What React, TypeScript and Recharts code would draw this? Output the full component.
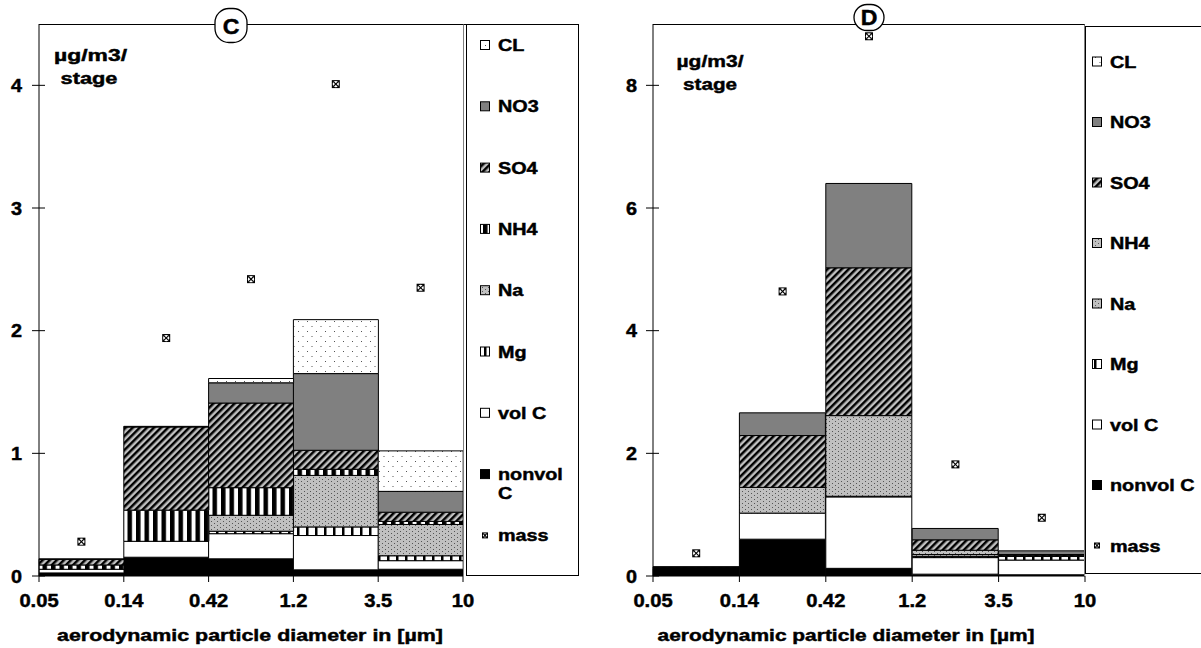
import React from 'react';
import { ComposedChart, Bar, Scatter, XAxis, YAxis, Legend } from 'recharts';

// ---------- data ----------
const edgeLabels = ['0.05', '0.14', '0.42', '1.2', '3.5', '10'];
const binCenters = [0.5, 1.5, 2.5, 3.5, 4.5];
const edgeTicks = [0, 1, 2, 3, 4, 5];

// Panel C (µg/m3/stage)
const nonvolC_C = [0.025, 0.153, 0.14, 0.05, 0.055];
const volC_C = [0.03, 0.13, 0.205, 0.28, 0.07];
const Mg_C = [0.0, 0.0, 0.02, 0.07, 0.04];
const Na_C = [0.0, 0.0, 0.13, 0.42, 0.255];
const NH4_C = [0.035, 0.254, 0.225, 0.05, 0.025];
const SO4_C = [0.045, 0.678, 0.69, 0.155, 0.075];
const NO3_C = [0.005, 0.005, 0.165, 0.625, 0.17];
const CL_C = [0.0, 0.0, 0.035, 0.44, 0.33];
const mass_C = [0.28, 1.94, 2.42, 4.01, 2.35];
const yTicks_C = [0, 1, 2, 3, 4];
const yMax_C = 4.5;

// Panel D (µg/m3/stage)
const nonvolC_D = [0.12, 0.6, 0.125, 0.03, 0.02];
const volC_D = [0.005, 0.425, 1.165, 0.27, 0.24];
const Mg_D = [0.005, 0.0, 0.01, 0.02, 0.06];
const Na_D = [0.0, 0.0, 0.0, 0.03, 0.01];
const NH4_D = [0.005, 0.42, 1.315, 0.07, 0.01];
const SO4_D = [0.01, 0.845, 2.41, 0.17, 0.01];
const NO3_D = [0.005, 0.37, 1.375, 0.185, 0.06];
const CL_D = [0.0, 0.0, 0.0, 0.0, 0.0];
const mass_D = [0.37, 4.64, 8.8, 1.82, 0.95];
const yTicks_D = [0, 2, 4, 6, 8];
const yMax_D = 9;

const seriesKeys = ['nonvolC', 'volC', 'Mg', 'Na', 'NH4', 'SO4', 'NO3', 'CL'];
const legendNames = ['CL', 'NO3', 'SO4', 'NH4', 'Na', 'Mg', 'vol C', 'nonvol C', 'mass'];

const buildRows = (arrs: number[][], mass: number[]) =>
  binCenters.map((x, i) => {
    const r: any = { x, mass: mass[i] };
    seriesKeys.forEach((k, j) => (r[k] = arrs[j][i]));
    return r;
  });

const rowsC = buildRows([nonvolC_C, volC_C, Mg_C, Na_C, NH4_C, SO4_C, NO3_C, CL_C], mass_C);
const rowsD = buildRows([nonvolC_D, volC_D, Mg_D, Na_D, NH4_D, SO4_D, NO3_D, CL_D], mass_D);

// ---------- styling ----------
const FONT = '"Liberation Sans", Arial, Helvetica, sans-serif';
const SX = 1.2;

const fillsC: Record<string, string> = {
  nonvolC: '#000000',
  volC: '#ffffff',
  Mg: 'url(#pMg)',
  Na: 'url(#pDots)',
  NH4: 'url(#pVStripe)',
  SO4: 'url(#pSO4)',
  NO3: '#808080',
  CL: 'url(#pCL)',
};
const fillsD: Record<string, string> = { ...fillsC, NH4: 'url(#pDots)' };

const SText = ({ x, y, anchor = 'start', size = 17, sx = SX, children, len }: any) => (
  <text
    transform={`translate(${x},${y}) scale(${sx},1)`}
    textAnchor={anchor}
    fontFamily={FONT}
    fontWeight="bold"
    fontSize={size}
    fill="#000"
    stroke="#000"
    strokeWidth={0.45}
    textLength={len ? len / sx : undefined}
    lengthAdjust={len ? 'spacingAndGlyphs' : undefined}
  >
    {children}
  </text>
);

const MassMarker = ({ cx, cy, s = 8 }: any) => {
  if (cx == null || cy == null) return null;
  const h = s / 2;
  const d = h - 1.6;
  return (
    <g>
      <rect x={cx - h} y={cy - h} width={s} height={s} fill="#000" />
      <circle cx={cx} cy={cy} r={h - 0.9} fill="#fff" />
      <line x1={cx - d} y1={cy - d} x2={cx + d} y2={cy + d} stroke="#000" strokeWidth={1.1} />
      <line x1={cx - d} y1={cy + d} x2={cx + d} y2={cy - d} stroke="#000" strokeWidth={1.1} />
    </g>
  );
};

const makeYTick = (labelGap: number) => (props: any) => {
  const { x, y, payload } = props;
  return (
    <g>
      <line x1={x - 7} x2={x + 6} y1={y} y2={y} stroke="#000" strokeWidth={1} />
      <SText x={x - labelGap} y={y + 6.5} anchor="end" size={18} sx={1.1}>
        {payload.value}
      </SText>
    </g>
  );
};

const XTick = (props: any) => {
  const { x, y, payload } = props;
  return (
    <g>
      <line x1={x} x2={x} y1={y} y2={y + 6} stroke="#000" strokeWidth={1} />
      <SText x={x} y={y + 30.5} anchor="middle" size={18} sx={1.12}>
        {edgeLabels[payload.value]}
      </SText>
    </g>
  );
};

const LegendBox = ({ w, h, iconX, textX, y0, dy, fills, twoLine }: any) => {
  const keyOf: Record<string, string> = {
    CL: 'CL', NO3: 'NO3', SO4: 'SO4', NH4: 'NH4', Na: 'Na', Mg: 'Mg', 'vol C': 'volC', 'nonvol C': 'nonvolC',
  };
  return (
    <svg width={w} height={h} style={{ display: 'block', overflow: 'visible' }}>
      <rect x={0.5} y={0.5} width={w - 1} height={h - 1} fill="#fff" stroke="#000" strokeWidth={1} />
      {legendNames.map((name, i) => {
        const cy = y0 + i * dy;
        if (name === 'mass') {
          return (
            <g key={name}>
              <MassMarker cx={iconX + 5} cy={cy} s={6} />
              <SText x={textX} y={cy + 6} size={16.5}>
                {name}
              </SText>
            </g>
          );
        }
        const isNonvol = name === 'nonvol C';
        return (
          <g key={name}>
            <rect x={iconX + 0.5} y={cy - 4.5} width={9} height={9} fill={fills[keyOf[name]]} stroke="#000" strokeWidth={1} />
            {isNonvol && twoLine ? (
              <>
                <SText x={textX} y={cy + 6} size={16.5}>nonvol</SText>
                <SText x={textX} y={cy + 25} size={16.5}>C</SText>
              </>
            ) : (
              <SText x={textX} y={cy + 6} size={16.5}>
                {name}
              </SText>
            )}
          </g>
        );
      })}
    </svg>
  );
};

const Panel = ({ rows, fills, width, yAxisWidth, marginRight, yMax, yTicks, labelGap, legend }: any) => (
  <ComposedChart
    width={width}
    height={648}
    data={rows}
    margin={{ top: 24, right: marginRight, bottom: 42, left: 0 }}
    barCategoryGap={0}
    barGap={0}
  >
    <XAxis
      type="number"
      dataKey="x"
      domain={[0, 5]}
      ticks={edgeTicks}
      interval={0}
      height={30}
      tickSize={0}
      tickMargin={0}
      axisLine={{ stroke: '#000', strokeWidth: 1 }}
      tickLine={false}
      tick={<XTick />}
    />
    <YAxis
      type="number"
      domain={[0, yMax]}
      ticks={yTicks}
      interval={0}
      allowDataOverflow
      width={yAxisWidth}
      tickSize={0}
      tickMargin={0}
      axisLine={{ stroke: '#000', strokeWidth: 1 }}
      tickLine={false}
      tick={makeYTick(labelGap)}
    />
    {seriesKeys.map((k) => (
      <Bar key={k} dataKey={k} stackId="s" fill={fills[k]} stroke="#000" strokeWidth={1} isAnimationActive={false} />
    ))}
    <Scatter dataKey="mass" isAnimationActive={false} shape={(p: any) => <MassMarker cx={p.cx} cy={p.cy} />} />
    <Legend
      layout="vertical"
      align="center"
      verticalAlign="middle"
      wrapperStyle={{ position: 'absolute', left: legend.left, top: legend.top, width: legend.w, height: legend.h, margin: 0, padding: 0 }}
      content={() => <LegendBox {...legend} fills={fills} />}
    />
  </ComposedChart>
);

const Badge = ({ cx, cy, label, hw = 16, hh = 17, ty = 8 }: any) => (
  <g>
    <rect x={cx - hw} y={cy - hh} width={2 * hw} height={2 * hh} rx={hw - 2} ry={hw - 2} fill="#fff" stroke="#000" strokeWidth={1.3} />
    <SText x={cx} y={cy + ty} anchor="middle" size={22} sx={1.05}>
      {label}
    </SText>
  </g>
);

export default function App() {
  return (
    <div style={{ position: 'absolute', left: 0, top: 0, width: 1201, height: 648, background: '#fff', overflow: 'hidden' }}>
      <svg width={0} height={0} style={{ position: 'absolute' }}>
        <defs>
          <pattern id="pCL" width="9" height="10" patternUnits="userSpaceOnUse">
            <rect width="9" height="10" fill="#fff" />
            <rect x="1" y="1" width="1" height="1" fill="#555" />
            <rect x="5.5" y="6" width="1" height="1" fill="#555" />
          </pattern>
          <pattern id="pDots" width="6" height="4" patternUnits="userSpaceOnUse">
            <rect width="6" height="4" fill="#c0c0c0" />
            <rect x="1" y="1" width="1" height="1" fill="#555" />
            <rect x="4" y="3" width="1" height="1" fill="#555" />
          </pattern>
          <pattern id="pSO4" width="5" height="5" patternUnits="userSpaceOnUse" patternTransform="rotate(45)">
            <rect width="5" height="5" fill="#c0c0c0" />
            <rect width="2.5" height="5" fill="#000" />
          </pattern>
          <pattern id="pVStripe" width="8.5" height="8" patternUnits="userSpaceOnUse">
            <rect width="8.5" height="8" fill="#fff" />
            <rect width="4.5" height="8" fill="#000" />
          </pattern>
          <pattern id="pMg" width="9" height="8" patternUnits="userSpaceOnUse">
            <rect width="9" height="8" fill="#fff" />
            <rect width="2.5" height="8" fill="#000" />
          </pattern>
        </defs>
      </svg>

      <div style={{ position: 'absolute', left: 0, top: 0 }}>
        <Panel
          rows={rowsC}
          fills={fillsC}
          width={600}
          yAxisWidth={39}
          marginRight={137}
          yMax={yMax_C}
          yTicks={yTicks_C}
          labelGap={17}
          legend={{ left: 466, top: 24, w: 113, h: 552, iconX: 14, textX: 32, y0: 21, dy: 61.3, twoLine: true }}
        />
      </div>
      <div style={{ position: 'absolute', left: 600, top: 0 }}>
        <Panel
          rows={rowsD}
          fills={fillsD}
          width={601}
          yAxisWidth={53}
          marginRight={116}
          yMax={yMax_D}
          yTicks={yTicks_D}
          labelGap={16}
          legend={{ left: 485, top: 26, w: 125, h: 548, iconX: 7, textX: 25, y0: 35.5, dy: 60.5, twoLine: false }}
        />
      </div>

      <svg width={1201} height={648} style={{ position: 'absolute', left: 0, top: 0, pointerEvents: 'none' }}>
        {/* plot frames */}
        <line x1={39} x2={466} y1={24.5} y2={24.5} stroke="#000" strokeWidth={1} />
        <line x1={463.5} x2={463.5} y1={24.5} y2={576} stroke="#808080" strokeWidth={1} />
        <line x1={653} x2={1085} y1={24.5} y2={24.5} stroke="#000" strokeWidth={1} />
        <line x1={1084.5} x2={1084.5} y1={24.5} y2={576} stroke="#808080" strokeWidth={1} />

        <Badge cx={231} cy={25.5} label="C" />
        <Badge cx={869} cy={17.5} label="D" hw={15} hh={13} ty={7.5} />

        <SText x={90.5} y={60.5} anchor="middle" len={73}>µg/m3/</SText>
        <SText x={89} y={83.5} anchor="middle" len={57}>stage</SText>
        <SText x={710} y={66.5} anchor="middle" len={67}>µg/m3/</SText>
        <SText x={710} y={90} anchor="middle" len={54}>stage</SText>

        <SText x={250} y={641} anchor="middle" len={386}>aerodynamic particle diameter in [µm]</SText>
        <SText x={846} y={641} anchor="middle" len={377}>aerodynamic particle diameter in [µm]</SText>
      </svg>
    </div>
  );
}
